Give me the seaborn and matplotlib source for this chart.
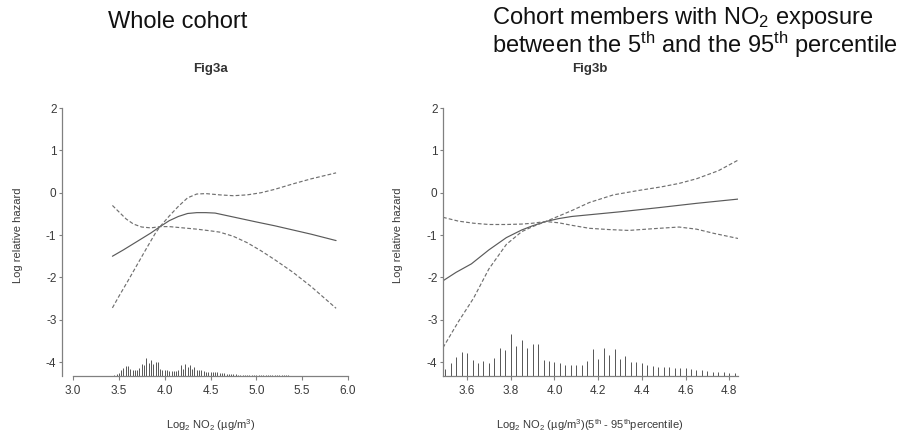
import numpy as np
import pandas as pd
import matplotlib
matplotlib.use("Agg")
import matplotlib.pyplot as plt
import seaborn as sns

# ---------------- data ----------------
# Fig3a (whole cohort)
a_x_fit = [3.43, 3.55, 3.70, 3.85, 3.95, 4.05, 4.15, 4.25, 4.35, 4.45, 4.55, 4.70, 4.85, 5.00, 5.20, 5.40, 5.60, 5.87]
a_y_fit = [-1.50, -1.35, -1.15, -0.95, -0.80, -0.66, -0.56, -0.49, -0.47, -0.47, -0.48, -0.55, -0.62, -0.69, -0.78, -0.88, -0.98, -1.13]

a_x_up = [3.43, 3.50, 3.60, 3.70, 3.80, 3.90, 3.95, 4.05, 4.15, 4.25, 4.35, 4.45, 4.60, 4.75, 4.90, 5.05, 5.20, 5.40, 5.60, 5.87]
a_y_up = [-2.72, -2.45, -2.08, -1.70, -1.32, -0.95, -0.80, -0.55, -0.32, -0.12, -0.03, -0.02, -0.05, -0.07, -0.05, 0.00, 0.08, 0.21, 0.33, 0.47]

a_x_lo = [3.43, 3.50, 3.58, 3.66, 3.75, 3.85, 3.95, 4.05, 4.20, 4.35, 4.50, 4.60, 4.75, 4.90, 5.05, 5.20, 5.40, 5.60, 5.87]
a_y_lo = [-0.30, -0.45, -0.62, -0.74, -0.81, -0.83, -0.80, -0.80, -0.83, -0.86, -0.90, -0.93, -1.03, -1.18, -1.37, -1.58, -1.88, -2.22, -2.73]

a_rug_x = [3.450, 3.475, 3.500, 3.525, 3.550, 3.575, 3.600, 3.625, 3.650, 3.675,
           3.700, 3.725, 3.750, 3.775, 3.800, 3.825, 3.850, 3.875, 3.900, 3.925,
           3.950, 3.975, 4.000, 4.025, 4.050, 4.075, 4.100, 4.125, 4.150, 4.175,
           4.200, 4.225, 4.250, 4.275, 4.300, 4.325, 4.350, 4.375, 4.400, 4.425,
           4.450, 4.475, 4.500, 4.525, 4.550, 4.575, 4.600, 4.625, 4.650, 4.675,
           4.700, 4.725, 4.750, 4.775, 4.800, 4.825, 4.850, 4.875, 4.900, 4.925,
           4.950, 4.975, 5.000, 5.025, 5.050, 5.075, 5.100, 5.125, 5.150, 5.175,
           5.200, 5.225, 5.250, 5.275, 5.300, 5.325, 5.350, 5.375, 5.400]
a_rug_h = [0.03, 0.05, 0.08, 0.13, 0.20, 0.24, 0.23, 0.16, 0.13, 0.15,
           0.13, 0.18, 0.29, 0.27, 0.43, 0.30, 0.37, 0.28, 0.33, 0.33,
           0.16, 0.15, 0.14, 0.13, 0.12, 0.11, 0.11, 0.12, 0.15, 0.27,
           0.17, 0.28, 0.21, 0.27, 0.17, 0.21, 0.14, 0.14, 0.13, 0.12,
           0.10, 0.09, 0.09, 0.09, 0.09, 0.09, 0.08, 0.07, 0.06, 0.05,
           0.05, 0.04, 0.04, 0.04, 0.03, 0.03, 0.03, 0.03, 0.03, 0.02,
           0.02, 0.02, 0.02, 0.02, 0.02, 0.02, 0.02, 0.02, 0.02, 0.02,
           0.02, 0.02, 0.02, 0.02, 0.02, 0.02, 0.02, 0.01, 0.01]

# Fig3b (5th - 95th percentile)
b_x_fit = [3.49, 3.55, 3.62, 3.70, 3.78, 3.85, 3.90, 3.96, 4.02, 4.08, 4.16, 4.30, 4.48, 4.65, 4.84]
b_y_fit = [-2.08, -1.88, -1.68, -1.35, -1.06, -0.88, -0.78, -0.68, -0.61, -0.56, -0.52, -0.45, -0.35, -0.25, -0.15]

b_x_up = [3.49, 3.56, 3.63, 3.70, 3.78, 3.85, 3.90, 3.96, 4.02, 4.08, 4.16, 4.27, 4.38, 4.49, 4.57, 4.65, 4.75, 4.84]
b_y_up = [-3.66, -3.05, -2.49, -1.80, -1.22, -0.92, -0.80, -0.68, -0.55, -0.42, -0.23, -0.05, 0.05, 0.14, 0.22, 0.33, 0.52, 0.77]

b_x_lo = [3.49, 3.56, 3.63, 3.70, 3.78, 3.85, 3.90, 3.96, 4.02, 4.08, 4.16, 4.25, 4.34, 4.45, 4.57, 4.65, 4.73, 4.84]
b_y_lo = [-0.58, -0.67, -0.72, -0.75, -0.75, -0.74, -0.72, -0.68, -0.71, -0.77, -0.84, -0.87, -0.89, -0.85, -0.81, -0.86, -0.96, -1.08]

b_rug_x = [3.500, 3.525, 3.550, 3.575, 3.600, 3.625, 3.650, 3.675, 3.700, 3.725,
           3.750, 3.775, 3.800, 3.825, 3.850, 3.875, 3.900, 3.925, 3.950, 3.975,
           4.000, 4.025, 4.050, 4.075, 4.100, 4.125, 4.150, 4.175, 4.200, 4.225,
           4.250, 4.275, 4.300, 4.325, 4.350, 4.375, 4.400, 4.425, 4.450, 4.475,
           4.500, 4.525, 4.550, 4.575, 4.600, 4.625, 4.650, 4.675, 4.700, 4.725,
           4.750, 4.775, 4.800, 4.825]
b_rug_h = [0.17, 0.31, 0.46, 0.56, 0.54, 0.38, 0.31, 0.35, 0.31, 0.42,
           0.67, 0.62, 0.99, 0.70, 0.85, 0.66, 0.76, 0.76, 0.38, 0.35,
           0.32, 0.31, 0.27, 0.27, 0.27, 0.27, 0.35, 0.63, 0.39, 0.65,
           0.49, 0.63, 0.39, 0.48, 0.32, 0.34, 0.30, 0.27, 0.24, 0.22,
           0.22, 0.22, 0.20, 0.20, 0.18, 0.16, 0.14, 0.13, 0.11, 0.10,
           0.09, 0.09, 0.08, 0.08]

a_xticks = [3.0, 3.5, 4.0, 4.5, 5.0, 5.5, 6.0]
b_xticks = [3.6, 3.8, 4.0, 4.2, 4.4, 4.6, 4.8]
yticks = [2, 1, 0, -1, -2, -3, -4]

# ---------------- style ----------------
sns.set_theme(style="white")
plt.rcParams["font.family"] = ["Liberation Sans", "DejaVu Sans"]
plt.rcParams["mathtext.default"] = "regular"

W, H = 901, 436
fig = plt.figure(figsize=(W / 100, H / 100), dpi=100)

YBOT, YTOP = -4.33, 2.05
axA = fig.add_axes([62 / W, 1 - 376 / H, 286 / W, 270 / H])
axB = fig.add_axes([443 / W, 1 - 376 / H, 295 / W, 270 / H])

SPINE = "#808080"
LINE = "#5a5a5a"
TXT = "#3a3a3a"
dash = (0, (3.2, 1.8))


def draw(ax, xf, yf, xu, yu, xl, yl, rx, rh, xlim, xticks, xbounds):
    sns.lineplot(x=xf, y=yf, ax=ax, color=LINE, linewidth=0.85, sort=False)
    sns.lineplot(x=xu, y=yu, ax=ax, color="#707070", linewidth=0.85, linestyle=dash, sort=False)
    sns.lineplot(x=xl, y=yl, ax=ax, color="#707070", linewidth=0.85, linestyle=dash, sort=False)
    rx = np.asarray(rx)
    rh = np.asarray(rh)
    ax.vlines(rx, YBOT, YBOT + rh, color="#555555", linewidth=0.7)
    ax.set_xlim(*xlim)
    ax.set_ylim(YBOT, YTOP)
    ax.set_xticks(xticks)
    ax.set_xticklabels([f"{t:.1f}" for t in xticks])
    ax.set_yticks(yticks)
    ax.set_yticklabels([str(t) for t in yticks])
    for s in ["top", "right"]:
        ax.spines[s].set_visible(False)
    for s in ["left", "bottom"]:
        ax.spines[s].set_color(SPINE)
        ax.spines[s].set_linewidth(0.9)
    ax.spines["left"].set_bounds(YBOT, 2)
    ax.spines["bottom"].set_bounds(*xbounds)
    ax.tick_params(axis="x", direction="out", length=3.2, width=0.8, color=SPINE,
                   labelsize=8.5, labelcolor=TXT, pad=3.5, bottom=True)
    ax.tick_params(axis="y", direction="out", length=2.5, width=0.8, color=SPINE,
                   labelsize=8.5, labelcolor=TXT, pad=1.5, left=True)
    ax.set_xlabel("")
    ax.set_ylabel("")
    ax.patch.set_alpha(0)


draw(axA, a_x_fit, a_y_fit, a_x_up, a_y_up, a_x_lo, a_y_lo, a_rug_x, a_rug_h,
     (2.88, 6.0), a_xticks, (3.0, 6.0))
draw(axB, b_x_fit, b_y_fit, b_x_up, b_y_up, b_x_lo, b_y_lo, b_rug_x, b_rug_h,
     (3.49, 4.84), b_xticks, (3.49, 4.84))

# ---------------- texts ----------------
fig.text(108 / W, 1 - 28 / H, "Whole cohort", fontsize=17, color="#111111",
         ha="left", va="baseline")
fig.text(492 / W, 1 - 5 / H,
         "Cohort members with NO$_2$ exposure\nbetween the 5$^{th}$ and the 95$^{th}$ percentile",
         fontsize=17, color="#111111", ha="left", va="top", linespacing=0.95)

fig.text(210 / W, 1 - 69 / H, "Fig3a", fontsize=9.5, fontweight="bold", color="#333333",
         ha="center", va="center")
fig.text(590 / W, 1 - 69 / H, "Fig3b", fontsize=9.5, fontweight="bold", color="#333333",
         ha="center", va="center")

fig.text(18 / W, 1 - 235 / H, "Log relative hazard", fontsize=8, color=TXT,
         rotation=90, ha="center", va="center")
fig.text(398 / W, 1 - 235 / H, "Log relative hazard", fontsize=8, color=TXT,
         rotation=90, ha="center", va="center")

fig.text(211 / W, 1 - 425 / H, "Log$_2$ NO$_2$ (µg/m$^3$)", fontsize=8, color=TXT,
         ha="center", va="center")
fig.text(590 / W, 1 - 425 / H, "Log$_2$ NO$_2$ (µg/m$^3$)(5$^{th}$ - 95$^{th}$percentile)",
         fontsize=8, color=TXT, ha="center", va="center")

fig.savefig("out.png", dpi=100, facecolor="white")
